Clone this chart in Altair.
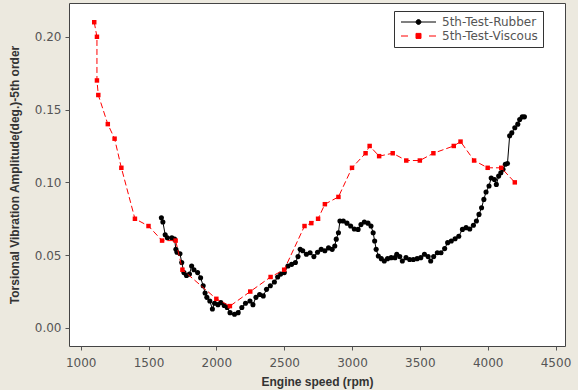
import altair as alt
import pandas as pd

# Series names (legend order)
series_names = ["5th-Test-Rubber", "5th-Test-Viscous"]
series_colors = ["#000000", "#ff0000"]

# 5th-Test-Viscous: engine speed (rpm) and 5th-order amplitude (deg.)
viscous_rpm = [1100, 1120, 1120, 1130, 1200, 1250, 1300, 1400, 1500, 1600,
               1700, 1750, 2000, 2100, 2250, 2400, 2500, 2650, 2700, 2750,
               2800, 2900, 3000, 3100, 3130, 3200, 3300, 3400, 3500, 3600,
               3750, 3800, 3900, 4000, 4100, 4200]
viscous_amp = [0.210, 0.200, 0.170, 0.160, 0.140, 0.130, 0.110, 0.075, 0.070, 0.060,
               0.060, 0.040, 0.020, 0.015, 0.025, 0.035, 0.040, 0.070, 0.072, 0.075,
               0.085, 0.090, 0.110, 0.120, 0.125, 0.118, 0.120, 0.115, 0.115, 0.120,
               0.125, 0.128, 0.115, 0.110, 0.110, 0.100]

# 5th-Test-Rubber: engine speed (rpm) and 5th-order amplitude (deg.)
rubber_rpm = [1595, 1606, 1623, 1639, 1672, 1692, 1702, 1710, 1732, 1745,
              1761, 1780, 1802, 1818, 1835, 1862, 1884, 1903, 1917, 1930,
              1952, 1971, 1987, 2012, 2033, 2058, 2080, 2101, 2134, 2161,
              2188, 2215, 2248, 2270, 2292, 2319, 2346, 2370, 2398, 2428,
              2452, 2474, 2501, 2528, 2555, 2583, 2602, 2618, 2637, 2664,
              2691, 2719, 2746, 2773, 2800, 2827, 2854, 2873, 2884, 2900,
              2911, 2936, 2963, 2990, 3017, 3045, 3066, 3091, 3118, 3140,
              3156, 3167, 3178, 3194, 3216, 3238, 3262, 3289, 3317, 3330,
              3352, 3371, 3398, 3425, 3452, 3480, 3507, 3534, 3561, 3580,
              3602, 3629, 3656, 3683, 3705, 3732, 3760, 3787, 3814, 3841,
              3868, 3895, 3917, 3936, 3955, 3972, 3988, 4010, 4026, 4050,
              4064, 4081, 4097, 4113, 4130, 4146, 4162, 4178, 4200, 4222,
              4236, 4255, 4271]
rubber_amp = [0.0757, 0.0728, 0.0640, 0.0620, 0.0620, 0.0610, 0.0540, 0.0520, 0.0510, 0.0450,
              0.0380, 0.0360, 0.0370, 0.0425, 0.0400, 0.0380, 0.0345, 0.0290, 0.0240, 0.0210,
              0.0185, 0.0130, 0.0170, 0.0160, 0.0175, 0.0155, 0.0140, 0.0105, 0.0094, 0.0105,
              0.0140, 0.0170, 0.0185, 0.0160, 0.0210, 0.0230, 0.0220, 0.0265, 0.0290, 0.0316,
              0.0350, 0.0370, 0.0380, 0.0425, 0.0437, 0.0450, 0.0490, 0.0540, 0.0530, 0.0506,
              0.0517, 0.0490, 0.0520, 0.0540, 0.0530, 0.0550, 0.0540, 0.0563, 0.0610, 0.0654,
              0.0735, 0.0735, 0.0720, 0.0700, 0.0680, 0.0677, 0.0710, 0.0728, 0.0720, 0.0700,
              0.0654, 0.0597, 0.0540, 0.0494, 0.0476, 0.0460, 0.0476, 0.0483, 0.0483, 0.0506,
              0.0490, 0.0460, 0.0483, 0.0470, 0.0470, 0.0476, 0.0483, 0.0506, 0.0490, 0.0460,
              0.0490, 0.0517, 0.0517, 0.0545, 0.0586, 0.0597, 0.0613, 0.0630, 0.0677, 0.0689,
              0.0680, 0.0705, 0.0735, 0.0780, 0.0826, 0.0883, 0.0934, 0.0975, 0.1030, 0.1020,
              0.0986, 0.1043, 0.1066, 0.1090, 0.1124, 0.1130, 0.1320, 0.1340, 0.1375, 0.1400,
              0.1432, 0.1450, 0.1450]

x_ticks = [1000, 1500, 2000, 2500, 3000, 3500, 4000, 4500]
y_ticks = [0.00, 0.05, 0.10, 0.15, 0.20]

rubber = pd.DataFrame({"rpm": rubber_rpm, "amp": rubber_amp, "series": series_names[0]})
viscous = pd.DataFrame({"rpm": viscous_rpm, "amp": viscous_amp, "series": series_names[1]})
both = pd.concat([rubber, viscous], ignore_index=True)

x_enc = alt.X("rpm:Q", title="Engine speed (rpm)",
              scale=alt.Scale(domain=[914, 4570], nice=False, zero=False),
              axis=alt.Axis(values=x_ticks, format="d", labelPadding=7, titlePadding=8))
y_enc = alt.Y("amp:Q", title="Torsional Vibration Amplitude(deg.)-5th order",
              scale=alt.Scale(domain=[-0.0124, 0.2232], nice=False, zero=False),
              axis=alt.Axis(values=y_ticks, format=".2f", labelPadding=4, titlePadding=13))
color_scale = alt.Scale(domain=series_names, range=series_colors)

# Legend glyphs: line with a centred marker (path units scaled by sqrt(size)/2 = 4 px)
rubber_glyph = "M-1,0H7.75M3.975,0A0.6,0.6,0,1,1,2.775,0A0.6,0.6,0,1,1,3.975,0Z"
viscous_glyph = "M-1,0H0.75M6,0H7.75M2.75,-0.65H4V0.6H2.75Z"
glyph_expr = f"datum.value === '{series_names[0]}' ? '{rubber_glyph}' : '{viscous_glyph}'"
stroke_expr = (f"datum.value === '{series_names[0]}' ? '{series_colors[0]}' "
               f": '{series_colors[1]}'")

# Non-breaking spaces after each label keep extra room at the right of the key box
label_tail = "\u00a0" * 4

legend = alt.Legend(
    title=None, orient="none", legendX=325, legendY=8,
    symbolSize=64, labelOffset=31, padding=5, rowPadding=2,
    fillColor="white", strokeColor="#333",
    symbolType={"expr": glyph_expr},
    symbolStrokeColor={"expr": stroke_expr},
    symbolStrokeWidth=1,
    labelExpr=f"datum.label + '{label_tail}'",
    labelFont="DejaVu Sans", labelFontSize=12, labelColor="#555",
)

rubber_line = alt.Chart(rubber).mark_line(strokeWidth=1).encode(
    x=x_enc, y=y_enc,
    color=alt.Color("series:N", scale=color_scale, legend=None),
)
rubber_pts = alt.Chart(rubber).mark_circle(size=26, opacity=1).encode(
    x=x_enc, y=y_enc,
    color=alt.Color("series:N", scale=color_scale, legend=None),
)
viscous_line = alt.Chart(viscous).mark_line(strokeWidth=1, strokeDash=[6, 3]).encode(
    x=x_enc, y=y_enc,
    color=alt.Color("series:N", scale=color_scale, legend=None),
)
viscous_pts = alt.Chart(viscous).mark_square(size=20, opacity=1).encode(
    x=x_enc, y=y_enc,
    color=alt.Color("series:N", scale=color_scale, legend=None),
)
# Invisible key layer: carries the legend for both series
key = alt.Chart(both).mark_circle(size=0, opacity=0).encode(
    x=x_enc, y=y_enc,
    color=alt.Color("series:N", scale=color_scale, legend=legend),
)

chart = alt.layer(rubber_line, rubber_pts, viscous_line, viscous_pts, key).resolve_legend(
    color="independent"
).properties(
    width=496, height=343,
    autosize=alt.AutoSizeParams(type="none"),
    padding={"left": 69, "top": 3, "right": 13, "bottom": 44},
    background="#ece9df",
).configure_view(
    fill="white", stroke="#444", strokeWidth=1,
).configure_axis(
    grid=False, domain=False,
    tickColor="#555", tickSize=4, tickWidth=1,
    labelFont="DejaVu Sans", labelFontSize=12, labelColor="#555",
    titleFont="Liberation Sans", titleFontSize=12, titleFontWeight="bold", titleColor="#333",
)

chart.save("out.html", embed_options={"renderer": "svg", "actions": False})
